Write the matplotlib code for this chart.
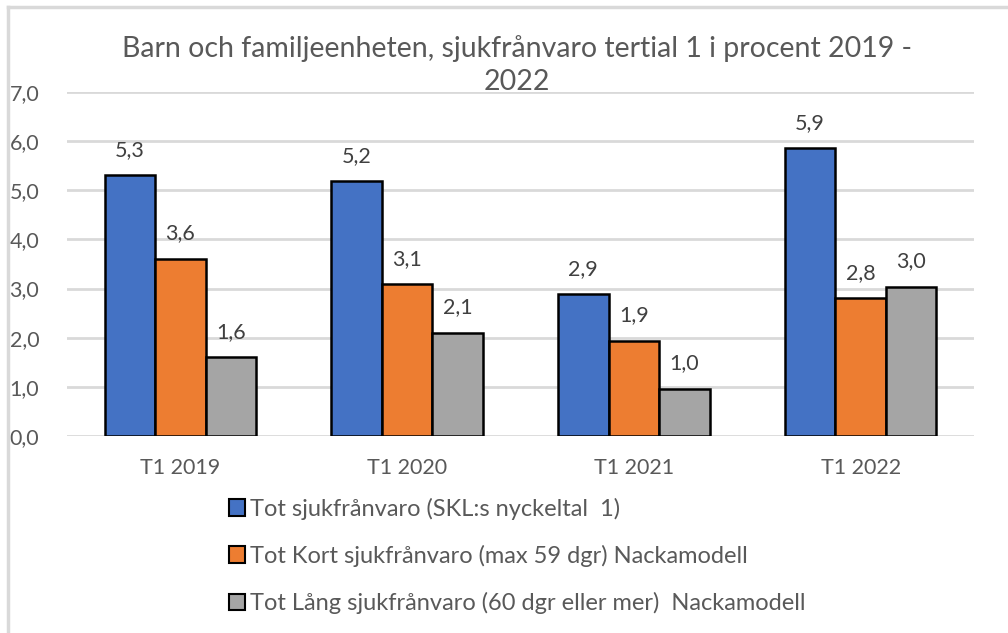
import matplotlib
matplotlib.use("Agg")
import matplotlib.pyplot as plt
import numpy as np
from matplotlib.lines import Line2D

plt.rcParams['font.family'] = ['Lato', 'DejaVu Sans']

categories = ["T1 2019", "T1 2020", "T1 2021", "T1 2022"]
series_names = [
    "Tot sjukfrånvaro (SKL:s nyckeltal  1)",
    "Tot Kort sjukfrånvaro (max 59 dgr) Nackamodell",
    "Tot Lång sjukfrånvaro (60 dgr eller mer)  Nackamodell",
]
tot = [5.31, 5.19, 2.88, 5.86]
kort = [3.61, 3.09, 1.94, 2.81]
lang = [1.61, 2.10, 0.96, 3.04]
colors = ["#4472C4", "#ED7D31", "#A5A5A5"]
title = "Barn och familjeenheten, sjukfrånvaro tertial 1 i procent 2019 -\n2022"

W, H = 1008, 633
fig = plt.figure(figsize=(W / 100, H / 100), dpi=100)
ax = fig.add_axes([67 / W, 1 - 436 / H, (974 - 67) / W, (436 - 92) / H])

x = np.arange(len(categories))
bw = 0.223
txt = "#595959"
for i, (vals, c) in enumerate(zip([tot, kort, lang], colors)):
    pos = x + (i - 1) * bw
    bars = ax.bar(pos, vals, bw, color=c, edgecolor="black", linewidth=1.8, zorder=3)
    for b, v in zip(bars, vals):
        ax.annotate(f"{v:.1f}".replace(".", ","), (b.get_x() + b.get_width() / 2, v),
                    xytext=(0, 11), textcoords="offset points", ha="center", va="bottom",
                    fontsize=15.5, color="#404040")

ax.set_xlim(-0.5, len(categories) - 0.5)
ax.set_ylim(0, 7)
ax.set_yticks(np.arange(0, 7.01, 1))
ax.set_yticklabels([f"{v:.1f}".replace(".", ",") for v in np.arange(0, 7.01, 1)])
ax.set_xticks(x)
ax.set_xticklabels(categories)
ax.grid(axis="y", color="#D9D9D9", linewidth=2, zorder=0)
ax.set_axisbelow(True)
for s in ax.spines.values():
    s.set_visible(False)
ax.tick_params(length=0, labelsize=15.5, colors=txt)
ax.tick_params(axis="y", pad=20)
ax.tick_params(axis="x", pad=16)

fig.text(517 / W, 1 - 65 / H, title, ha="center", va="center", fontsize=20.5,
         color=txt, linespacing=1.3)

handles = [plt.Rectangle((0, 0), 1, 1, facecolor=c, edgecolor="black", linewidth=1.5) for c in colors]
leg = fig.legend(handles, series_names, loc="upper left", bbox_to_anchor=(217 / W, 1 - 486 / H),
                 frameon=False, fontsize=17, labelcolor=txt, handlelength=0.7, handleheight=0.7,
                 handletextpad=0.2, labelspacing=1.06, borderpad=0)

# chart border (left and top)
fig.add_artist(Line2D([8 / W, 8 / W], [0, 1 - 7 / H], color="#D9D9D9", linewidth=2.5))
fig.add_artist(Line2D([8 / W, 1], [1 - 7 / H, 1 - 7 / H], color="#D9D9D9", linewidth=2.5))

fig.savefig("out.png", dpi=100)
